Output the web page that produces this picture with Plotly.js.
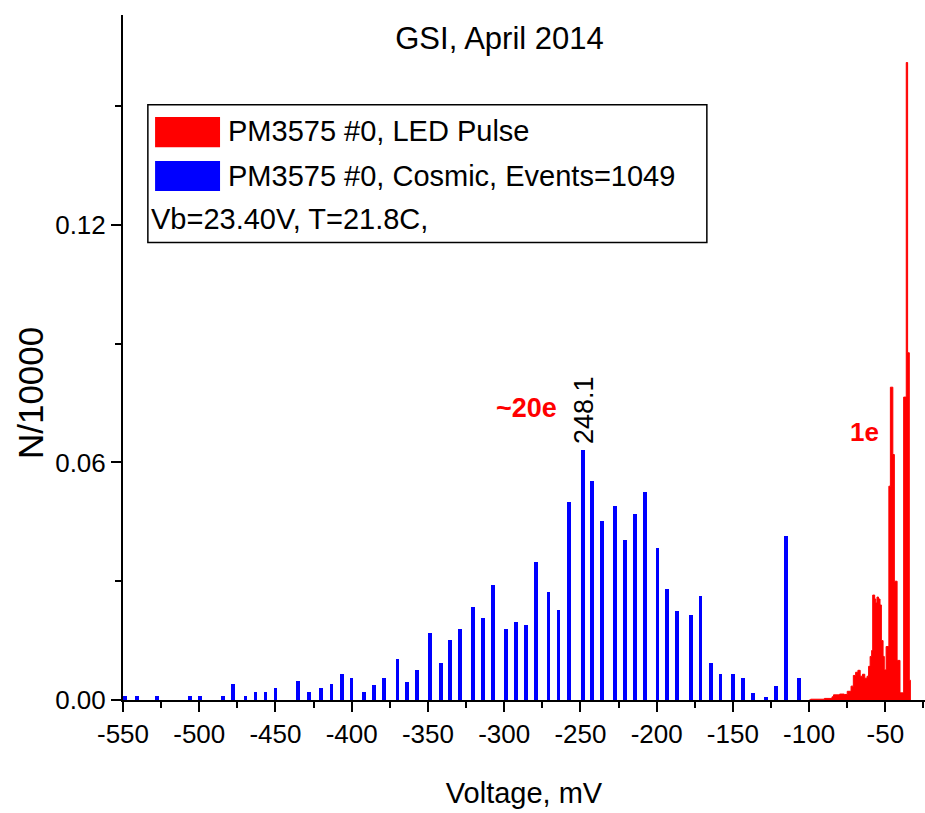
<!DOCTYPE html>
<html>
<head>
<meta charset="utf-8">
<script src="https://cdn.plot.ly/plotly-3.0.1.min.js"></script>
<style>html,body{margin:0;padding:0;background:#fff;}#chart{width:925px;height:813px;}</style>
</head>
<body>
<div id="chart"></div>
<script>
// Cosmic spectrum (blue bars): bin centres in mV and N/10000
var cosmicX = [-548.7, -540.7, -527.6, -506.2, -499.7, -484.4, -477.9, -469.6, -463.1, -456.5,
  -450.0, -435.0, -428.2, -419.9, -413.2, -406.6, -400.1, -391.8, -385.3, -378.8,
  -370.0, -363.5, -357.0, -348.7, -341.7, -335.6, -329.1, -320.4, -313.8, -307.3,
  -298.8, -292.3, -285.8, -279.2, -270.9, -264.4, -257.5, -248.1, -242.6, -236.1,
  -227.3, -220.8, -214.3, -207.7, -199.5, -193.0, -186.4, -177.7, -171.2, -164.6,
  -158.1, -149.9, -143.3, -136.8, -128.1, -121.6, -115.0, -106.7];
var cosmicY = [0.0011, 0.0011, 0.0011, 0.0011, 0.0011, 0.0011, 0.0040, 0.0011, 0.0021, 0.0021,
  0.0030, 0.0049, 0.0020, 0.0030, 0.0040, 0.0066, 0.0056, 0.0019, 0.0038, 0.0056,
  0.0103, 0.0046, 0.0076, 0.0170, 0.0094, 0.0152, 0.0179, 0.0236, 0.0207, 0.0291,
  0.0179, 0.0198, 0.0189, 0.0349, 0.0273, 0.0227, 0.0500, 0.0632, 0.0553, 0.0451,
  0.0490, 0.0403, 0.0469, 0.0525, 0.0385, 0.0280, 0.0225, 0.0215, 0.0263, 0.0093,
  0.0065, 0.0065, 0.0055, 0.0017, 0.0007, 0.0036, 0.0414, 0.0055];

// LED pulse spectrum (red): left bin edges in mV and N/10000 (step histogram)
var ledX = [-100, -99, -90, -85, -84, -80, -77, -75, -72.5, -71,
  -69.5, -68, -66.5, -65, -63.5, -62, -61, -60, -59, -58.3,
  -57, -56.3, -55.5, -54.5, -53.5, -52.6, -51.5, -50.7, -49.5, -47.7,
  -46.7, -45.1, -44.1, -42.3, -40.4, -38, -36.3, -35.4, -34.3, -33.6];
var ledY = [0, 0.0002, 0.0004, 0.0008, 0.0013, 0.0015, 0.0014, 0.0022, 0.0035, 0.0062,
  0.0070, 0.0075, 0.0060, 0.0065, 0.0055, 0.0060, 0.0085, 0.0110, 0.0125, 0.0265,
  0.0255, 0.0245, 0.0260, 0.0255, 0.0240, 0.0150, 0.0110, 0.0076, 0.0135, 0.054,
  0.079, 0.062, 0.030, 0.010, 0.0018, 0.0765, 0.161, 0.0877, 0.005, 0];

var xTickVals = [-550, -500, -450, -400, -350, -300, -250, -200, -150, -100, -50];
var xTickText = ['-550', '-500', '-450', '-400', '-350', '-300', '-250', '-200', '-150', '-100', '-50'];
var yTickVals = [0, 0.06, 0.12];
var yTickText = ['0.00', '0.06', '0.12'];

var seriesNames = ['PM3575 #0, LED Pulse', 'PM3575 #0, Cosmic, Events=1049'];
var infoText = 'Vb=23.40V, T=21.8C,';
var peakLabel = '248.1';

var FONT = 'Liberation Sans, Arial, sans-serif';

// peak of cosmic spectrum
var pk = 0;
for (var i = 1; i < cosmicY.length; i++) if (cosmicY[i] > cosmicY[pk]) pk = i;

var traces = [
  {
    type: 'scatter', mode: 'lines', x: ledX, y: ledY,
    line: {shape: 'hv', color: '#ff0000', width: 1},
    fill: 'tozeroy', fillcolor: '#ff0000', showlegend: false, hoverinfo: 'x+y'
  },
  {
    type: 'bar', x: cosmicX, y: cosmicY, width: 2.5,
    marker: {color: '#0000ff', line: {width: 0}}, showlegend: false
  }
];

var axisCommon = {
  showline: true, linecolor: '#000', linewidth: 2,
  ticks: 'outside', ticklen: 10, tickwidth: 2, tickcolor: '#000',
  showgrid: false, zeroline: false,
  tickfont: {family: FONT, size: 26, color: '#000'}
};

var layout = {
  width: 925, height: 813,
  margin: {l: 123, r: 0, t: 15, b: 113, pad: 0},
  paper_bgcolor: '#fff', plot_bgcolor: '#fff',
  showlegend: false,
  font: {family: FONT, color: '#000'},
  bargap: 0,
  title: {text: 'GSI, April 2014', font: {family: FONT, size: 31, color: '#000'},
    x: 0.54, xanchor: 'center', y: 0.953, yanchor: 'middle'},
  xaxis: Object.assign({}, axisCommon, {
    range: [-550, -24], tickmode: 'array', tickvals: xTickVals, ticktext: xTickText,
    minor: {tickmode: 'linear', tick0: -550, dtick: 25, ticks: 'outside', ticklen: 6, tickwidth: 2, tickcolor: '#000', showgrid: false},
    title: {text: 'Voltage, mV', font: {family: FONT, size: 29, color: '#000'}, standoff: 34}
  }),
  yaxis: Object.assign({}, axisCommon, {
    range: [0, 0.173], tickmode: 'array', tickvals: yTickVals, ticktext: yTickText,
    minor: {tickmode: 'linear', tick0: 0, dtick: 0.03, ticks: 'outside', ticklen: 6, tickwidth: 2, tickcolor: '#000', showgrid: false}
  }),
  shapes: [
    {type: 'rect', xref: 'paper', yref: 'paper', x0: 0.031, x1: 0.728, y0: 0.668, y1: 0.869,
      line: {color: '#000', width: 1.5}, fillcolor: '#fff', layer: 'below'},
    {type: 'rect', xref: 'paper', yref: 'paper', x0: 0.040, x1: 0.121, y0: 0.807, y1: 0.851,
      line: {width: 0}, fillcolor: '#ff0000'},
    {type: 'rect', xref: 'paper', yref: 'paper', x0: 0.040, x1: 0.121, y0: 0.743, y1: 0.787,
      line: {width: 0}, fillcolor: '#0000ff'}
  ],
  annotations: [
    {xref: 'paper', yref: 'paper', x: 0.129, y: 0.831, xanchor: 'left', yanchor: 'middle', showarrow: false,
      text: seriesNames[0], font: {family: FONT, size: 29, color: '#000'}},
    {xref: 'paper', yref: 'paper', x: 0.129, y: 0.765, xanchor: 'left', yanchor: 'middle', showarrow: false,
      text: seriesNames[1], font: {family: FONT, size: 29, color: '#000'}},
    {xref: 'paper', yref: 'paper', x: 0.033, y: 0.702, xanchor: 'left', yanchor: 'middle', showarrow: false,
      text: infoText, font: {family: FONT, size: 29, color: '#000'}},
    {xref: 'paper', yref: 'paper', x: -0.116, y: 0.448, xanchor: 'center', yanchor: 'middle', showarrow: false,
      textangle: -90, text: 'N/10000', font: {family: FONT, size: 35, color: '#000'}},
    {xref: 'x', yref: 'y', x: cosmicX[pk], y: cosmicY[pk], xanchor: 'center', yanchor: 'bottom', yshift: 4,
      showarrow: false, textangle: -90, text: peakLabel, font: {family: FONT, size: 27, color: '#000'}},
    {xref: 'x', yref: 'y', x: -285.6, y: 0.0738, xanchor: 'center', yanchor: 'middle', showarrow: false,
      text: '<b>~20e</b>', font: {family: FONT, size: 27, color: '#ff0000'}},
    {xref: 'x', yref: 'y', x: -64, y: 0.0677, xanchor: 'center', yanchor: 'middle', showarrow: false,
      text: '<b>1e</b>', font: {family: FONT, size: 26, color: '#ff0000'}}
  ]
};

Plotly.newPlot('chart', traces, layout, {displayModeBar: false, staticPlot: true});
</script>
</body>
</html>
